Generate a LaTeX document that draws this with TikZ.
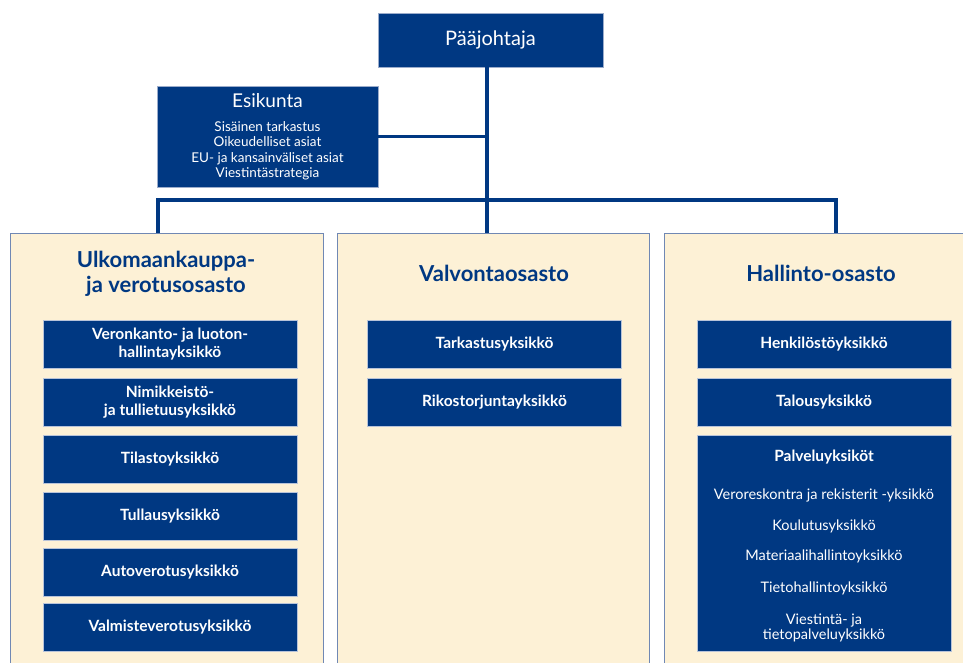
\documentclass[tikz,border=0pt]{standalone}
\usepackage{fontspec}
\setmainfont{Lato}
\usepackage{tikz}
\usetikzlibrary{positioning}
\definecolor{tullisini}{RGB}{0,56,130}
\definecolor{kerma}{RGB}{253,241,214}
\definecolor{reuna}{RGB}{112,136,180}

\begin{document}
\begin{tikzpicture}[x=1pt, y=-1pt,
  johto/.style={rectangle, fill=tullisini, draw=reuna!70, text=white, align=center, inner sep=2pt},
  osasto/.style={rectangle, fill=kerma, draw=reuna, line width=1pt, anchor=north, minimum height=460pt},
  yksikko/.style={rectangle, fill=tullisini, draw=reuna!50, text=white, align=center,
    minimum width=254pt, minimum height=48pt, inner sep=1pt, font=\fontsize{15.5}{18}\selectfont\bfseries},
  otsikko/.style={text=tullisini, align=center, font=\fontsize{22}{25}\selectfont\bfseries},
  viiva/.style={draw=tullisini, line width=3.5pt}]
  \clip (0,0) rectangle (963,663);
  \fill[white] (0,0) rectangle (963,663);

  % johto
  \node[johto, minimum width=225pt, minimum height=54pt, font=\fontsize{20}{24}\selectfont] (paa) at (490.5,40) {Pääjohtaja};
  \node[johto, minimum width=221pt, minimum height=101pt, font=\fontsize{13.5}{15.3}\selectfont] (esi) at (267.5,136.5)
    {{\fontsize{19}{20}\selectfont Esikunta}\\[9pt]Sisäinen tarkastus\\Oikeudelliset asiat\\EU- ja kansainväliset asiat\\Viestintästrategia};

  % osastot
  \node[osasto, minimum width=313pt] (ulko) at (166.5,233) {};
  \node[osasto, minimum width=312pt] (valvo) at (493,233) {};
  \node[osasto, minimum width=318pt] (hallinto) at (823,233) {};
  \node[otsikko] (ulkoots) at (166,274) {Ulkomaankauppa-\\ja verotusosasto};
  \node[otsikko] (valvoots) at (494,273) {Valvontaosasto};
  \node[otsikko] (hallots) at (821,273) {Hallinto-osasto};

  % yksiköt
  \node[yksikko] (veronk) at (170,344) {Veronkanto- ja luoton-\\hallintayksikkö};
  \node[yksikko] (nimik)  at (170,402) {Nimikkeistö-\\ja tullietuusyksikkö};
  \node[yksikko] (tilasto) at (170,459) {Tilastoyksikkö};
  \node[yksikko] (tullaus) at (170,516) {Tullausyksikkö};
  \node[yksikko] (auto) at (170,572) {Autoverotusyksikkö};
  \node[yksikko] (valmiste) at (170,627) {Valmisteverotusyksikkö};

  \node[yksikko] (tarkastus) at (494.5,344.5) {Tarkastusyksikkö};
  \node[yksikko] (rikos) at (494.5,402) {Rikostorjuntayksikkö};

  \node[yksikko] (henkilo) at (824,344) {Henkilöstöyksikkö};
  \node[yksikko] (talous) at (824,402) {Talousyksikkö};
  \node[yksikko, minimum height=216pt, font=\fontsize{14.5}{15}\selectfont] (palvelu) at (824,543)
    {\rule{0pt}{17pt}\textbf{\fontsize{15.5}{15}\selectfont Palveluyksiköt}\\[23pt]Veroreskontra ja rekisterit -yksikkö\\[16pt]Koulutusyksikkö\\[15pt]Materiaalihallintoyksikkö\\[17pt]Tietohallintoyksikkö\\[17pt]Viestintä- ja\\tietopalveluyksikkö};

  % viivat
  \coordinate (runko) at (487,200);
  \coordinate (vasen) at (158,200);
  \coordinate (oikea) at (836,200);
  \draw[viiva] (runko |- paa.south) -- (runko |- valvo.north);
  \draw[viiva] (esi.east) -- (esi.east -| runko);
  \draw[viiva] (vasen |- ulko.north) -- (vasen) -- (oikea) -- (oikea |- hallinto.north);
\end{tikzpicture}
\end{document}
